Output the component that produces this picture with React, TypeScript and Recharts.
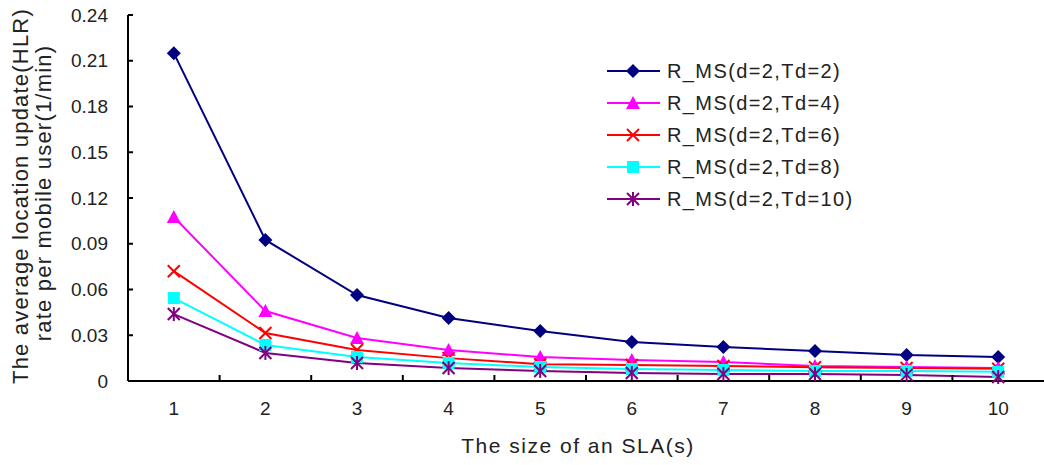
import { LineChart, Line, XAxis, YAxis, Label } from "recharts";

const sizes = [1, 2, 3, 4, 5, 6, 7, 8, 9, 10];
const td2 = [0.215, 0.0925, 0.0564, 0.0413, 0.0328, 0.0256, 0.0223, 0.0197, 0.017, 0.0157];
const td4 = [0.1075, 0.0459, 0.0282, 0.0203, 0.0157, 0.0138, 0.0125, 0.0098, 0.0092, 0.0085];
const td6 = [0.072, 0.0315, 0.0203, 0.015, 0.011, 0.0105, 0.0098, 0.009, 0.0085, 0.008];
const td8 = [0.0544, 0.0236, 0.0157, 0.0118, 0.0092, 0.0079, 0.0072, 0.0066, 0.0066, 0.006];
const td10 = [0.0439, 0.0184, 0.0118, 0.0085, 0.0066, 0.0052, 0.0046, 0.0046, 0.004, 0.0026];
const yTicks = [0, 0.03, 0.06, 0.09, 0.12, 0.15, 0.18, 0.21, 0.24];
const xTicks = [1, 1.5, 2, 2.5, 3, 3.5, 4, 4.5, 5, 5.5, 6, 6.5, 7, 7.5, 8, 8.5, 9, 9.5, 10];

const FONT = "'Liberation Sans', Arial, sans-serif";

type Marker = "diamond" | "triangle" | "cross" | "square" | "star";

interface SeriesDef {
  key: string;
  name: string;
  color: string;
  marker: Marker;
  values: number[];
}

const series: SeriesDef[] = [
  { key: "td2", name: "R_MS(d=2,Td=2)", color: "#000080", marker: "diamond", values: td2 },
  { key: "td4", name: "R_MS(d=2,Td=4)", color: "#ff00ff", marker: "triangle", values: td4 },
  { key: "td6", name: "R_MS(d=2,Td=6)", color: "#ff0000", marker: "cross", values: td6 },
  { key: "td8", name: "R_MS(d=2,Td=8)", color: "#00ffff", marker: "square", values: td8 },
  { key: "td10", name: "R_MS(d=2,Td=10)", color: "#800080", marker: "star", values: td10 },
];

const data = sizes.map((s, i) => {
  const row: Record<string, number> = { size: s };
  series.forEach((d) => {
    row[d.key] = d.values[i];
  });
  return row;
});

function markerShape(marker: Marker, cx: number, cy: number, color: string) {
  switch (marker) {
    case "diamond":
      return <polygon points={`${cx},${cy - 7} ${cx + 7},${cy} ${cx},${cy + 7} ${cx - 7},${cy}`} fill={color} />;
    case "triangle":
      return <polygon points={`${cx},${cy - 7} ${cx + 7},${cy + 6} ${cx - 7},${cy + 6}`} fill={color} />;
    case "cross":
      return (
        <g stroke={color} strokeWidth={2}>
          <line x1={cx - 6} y1={cy - 6} x2={cx + 6} y2={cy + 6} />
          <line x1={cx - 6} y1={cy + 6} x2={cx + 6} y2={cy - 6} />
        </g>
      );
    case "square":
      return <rect x={cx - 6} y={cy - 6} width={12} height={12} fill={color} />;
    case "star":
      return (
        <g stroke={color} strokeWidth={2}>
          <line x1={cx - 6} y1={cy - 6} x2={cx + 6} y2={cy + 6} />
          <line x1={cx - 6} y1={cy + 6} x2={cx + 6} y2={cy - 6} />
          <line x1={cx} y1={cy - 7} x2={cx} y2={cy + 7} />
        </g>
      );
  }
}

function makeDot(def: SeriesDef) {
  return (props: any) => {
    const { cx, cy, index } = props;
    if (cx == null || cy == null) return <g key={index} />;
    return <g key={`${def.key}-${index}`}>{markerShape(def.marker, cx, cy, def.color)}</g>;
  };
}

// x labels on whole numbers, inward tick marks between categories
function XTick(props: any) {
  const { x, y, payload } = props;
  const v = payload.value as number;
  const axisY = y - 22;
  if (!Number.isInteger(v)) {
    return <line x1={x} x2={x} y1={axisY} y2={axisY - 6} stroke="#000" strokeWidth={2} />;
  }
  return (
    <text x={x} y={y} dy={12} textAnchor="middle" fontSize={19} fontFamily={FONT} fill="#222">
      {v}
    </text>
  );
}

function YTitle() {
  const cy = 196;
  return (
    <g fontFamily={FONT} fontSize={22} fill="#222" letterSpacing={1.2}>
      <text x={20} y={cy} transform={`rotate(-90 20 ${cy})`} textAnchor="middle" dominantBaseline="central">
        The average location update(HLR)
      </text>
      <text x={43} y={cy - 3} transform={`rotate(-90 43 ${cy - 3})`} textAnchor="middle" dominantBaseline="central">
        rate per mobile user(1/min)
      </text>
    </g>
  );
}

function LegendBox() {
  return (
    <div
      style={{
        position: "absolute",
        left: 605,
        top: 55,
        fontFamily: FONT,
        fontSize: 20,
        letterSpacing: 1.4,
        color: "#222",
      }}
    >
      {series.map((d) => (
        <div key={d.key} style={{ display: "flex", alignItems: "center", height: 32 }}>
          <svg width={62} height={20}>
            <line x1={2} x2={55} y1={10} y2={10} stroke={d.color} strokeWidth={2} />
            {markerShape(d.marker, 28, 10, d.color)}
          </svg>
          <span>{d.name}</span>
        </div>
      ))}
    </div>
  );
}

export default function App() {
  return (
    <div style={{ position: "absolute", left: 0, top: 0, width: 1044, height: 465, background: "#fff" }}>
      <LineChart width={1044} height={465} data={data} margin={{ top: 15, right: 0, bottom: 0, left: 0 }}>
        <XAxis
          dataKey="size"
          type="number"
          domain={[0.5, 10.5]}
          ticks={xTicks}
          interval={0}
          height={84}
          tickLine={false}
          tickSize={6}
          tickMargin={16}
          axisLine={{ stroke: "#000", strokeWidth: 2 }}
          tick={<XTick />}
        >
          <Label
            value="The size of an SLA(s)"
            position="insideBottom"
            offset={12}
            dx={-8}
            style={{ fontFamily: FONT, fontSize: 21, fill: "#222", letterSpacing: 1.5 }}
          />
        </XAxis>
        <YAxis
          type="number"
          domain={[0, 0.24]}
          ticks={yTicks}
          interval={0}
          width={128}
          tickSize={-5}
          tickMargin={25}
          tickLine={{ stroke: "#000", strokeWidth: 2 }}
          axisLine={{ stroke: "#000", strokeWidth: 2 }}
          tick={{ fontFamily: FONT, fontSize: 19, fill: "#222" }}
          tickFormatter={(v: number) => (v === 0 ? "0" : v.toFixed(2))}
          label={<YTitle />}
        />
        {series.map((d) => (
          <Line
            key={d.key}
            dataKey={d.key}
            name={d.name}
            type="linear"
            stroke={d.color}
            strokeWidth={2}
            dot={makeDot(d)}
            activeDot={false}
            isAnimationActive={false}
          />
        ))}
      </LineChart>
      <LegendBox />
    </div>
  );
}
